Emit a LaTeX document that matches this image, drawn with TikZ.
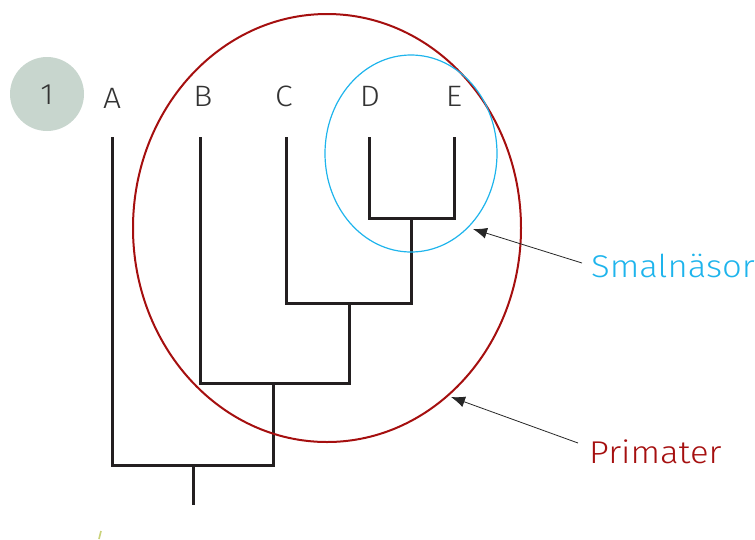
\documentclass[tikz,border=0pt]{standalone}
\usepackage{fontspec}
\setmainfont{Fira Sans}[UprightFont=* Light]
\usetikzlibrary{arrows.meta,shapes.geometric}
\definecolor{treeblk}{HTML}{231F20}
\definecolor{primred}{HTML}{A50F0F}
\definecolor{smalblue}{HTML}{1EB4EC}
\definecolor{numgray}{HTML}{C8D6CE}
\definecolor{labgray}{HTML}{333333}
\definecolor{tickgreen}{HTML}{C9D27A}
\begin{document}
\begin{tikzpicture}[x=1pt,y=-1pt,
  branch/.style={draw=treeblk,line width=3pt},
  taxon/.style={text=labgray,font=\fontsize{29.5}{31}\selectfont,inner sep=0pt,anchor=center,xscale=1.08},
  pointer/.style={draw=black!85,line width=0.8pt,-{Latex[length=14pt,width=11pt]}},
  grouplabel/.style={font=\fontsize{31.5}{33}\selectfont,inner sep=0pt,anchor=west,xscale=1.1}]
\useasboundingbox (0,0) rectangle (755,539);
% number badge
\node[circle,fill=numgray,minimum size=74pt,inner sep=0pt] (badge) at (47,94) {};
\node[taxon] (num) at (47,95) {1};
% taxa labels
\node[taxon] (lA) at (112,98) {A};
\node[taxon] (lB) at (203,96) {B};
\node[taxon] (lC) at (284,96) {C};
\node[taxon] (lD) at (370,96) {D};
\node[taxon] (lE) at (454,96) {E};
% tree coordinates
\coordinate (tA) at (112,138); \coordinate (tB) at (200,138);
\coordinate (tC) at (286,138); \coordinate (tD) at (369,138);
\coordinate (tE) at (454,138);
\coordinate (bD) at (369,218); \coordinate (bE) at (454,218);
\coordinate (nDE) at (411,218); \coordinate (nDEb) at (411,303);
\coordinate (bC) at (286,303);
\coordinate (nCDE) at (349,303); \coordinate (nCDEb) at (349,383);
\coordinate (bB) at (200,383);
\coordinate (nBE) at (273,383); \coordinate (nBEb) at (273,465);
\coordinate (bA) at (112,465);
\coordinate (root) at (193,465); \coordinate (rootb) at (193,505);
\draw[branch,line cap=rect] (tD) -- (bD) -- (bE) -- (tE);
\draw[branch] (nDE) -- (nDEb);
\draw[branch,line cap=rect] (tC) -- (bC) -- (nDEb);
\draw[branch] (nCDE) -- (nCDEb);
\draw[branch,line cap=rect] (tB) -- (bB) -- (nCDEb);
\draw[branch] (nBE) -- (nBEb);
\draw[branch,line cap=rect] (tA) -- (bA) -- (nBEb);
\draw[branch] (root) -- (rootb);
% clade ellipses
\node[ellipse,draw=primred,line width=2pt,minimum width=388pt,minimum height=428pt,inner sep=0pt] (prim) at (327,228) {};
\node[ellipse,draw=smalblue,line width=1.2pt,minimum width=172pt,minimum height=197pt,inner sep=0pt] (smal) at (411,153.5) {};
% labels and arrows
\node[grouplabel,text=smalblue] (tSmal) at (591,266) {Smalnäsor};
\node[grouplabel,text=primred] (tPrim) at (589,452) {Primater};
\coordinate (aSmal) at (582,263);
\coordinate (aPrim) at (578,443);
\draw[pointer] (aSmal) -- (473,229);
\draw[pointer] (aPrim) -- (451,397);
% small mark
\draw[tickgreen,line width=1.6pt] (99,539) -- (101,531);
\end{tikzpicture}
\end{document}
